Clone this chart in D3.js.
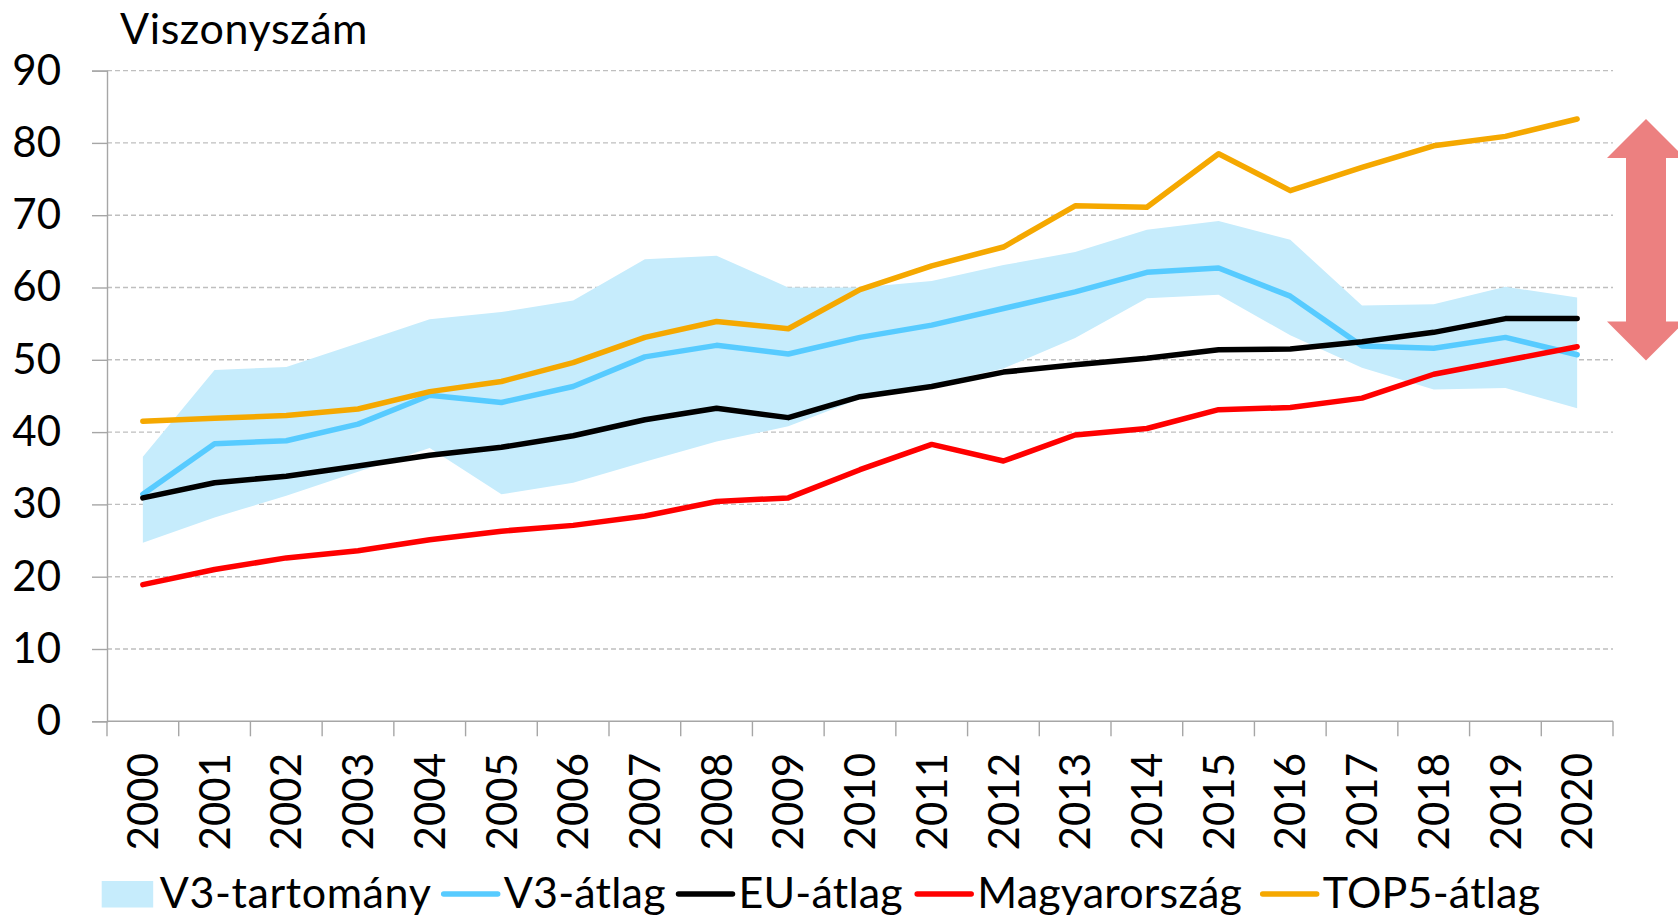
<!DOCTYPE html>
<html>
<head>
<meta charset="utf-8">
<script src="https://cdn.jsdelivr.net/npm/d3@7"></script>
<style>
  body { margin: 0; background: #fff; }
  svg { display: block; font-family: Lato, "Open Sans", sans-serif; }
</style>
</head>
<body>
<svg width="1678" height="918"></svg>
<script>
var years = ["2000","2001","2002","2003","2004","2005","2006","2007","2008","2009","2010",
             "2011","2012","2013","2014","2015","2016","2017","2018","2019","2020"];

// V3 range (band)
var v3Low  = [24.7,28.2,31.2,34.5,37.8,31.4,33.0,35.9,38.7,40.8,44.6,46.6,48.8,53.0,58.5,59.0,53.4,48.9,45.9,46.1,43.3];
var v3High = [36.6,48.6,49.0,52.3,55.6,56.6,58.2,63.9,64.4,60.0,60.0,60.9,63.1,64.9,68.0,69.2,66.6,57.5,57.7,60.1,58.6];

var v3Avg   = [31.4,38.4,38.8,41.1,45.1,44.1,46.3,50.4,52.0,50.8,53.1,54.8,57.1,59.4,62.1,62.7,58.8,51.9,51.6,53.1,50.7];
var euAvg   = [30.9,33.0,33.9,35.3,36.8,37.9,39.5,41.7,43.3,42.0,44.9,46.3,48.3,49.3,50.2,51.4,51.5,52.5,53.8,55.7,55.7];
var hungary = [18.9,21.0,22.6,23.6,25.1,26.3,27.1,28.4,30.4,30.9,34.8,38.3,36.0,39.6,40.5,43.1,43.4,44.7,48.0,49.9,51.8];
var top5    = [41.5,41.9,42.3,43.2,45.6,47.0,49.6,53.1,55.3,54.3,59.7,63.0,65.6,71.3,71.1,78.5,73.4,76.6,79.6,80.9,83.3];

var yTicks = [0,10,20,30,40,50,60,70,80,90];
var arrowSpan = [83.3, 49.9];

var svg = d3.select("svg");

var x = d3.scaleBand().domain(years).range([107, 1613]).paddingInner(0).paddingOuter(0);
var y = d3.scaleLinear().domain([0, 90]).range([721.3, 70.6]);
var cx = function(i) { return x(years[i]) + x.bandwidth() / 2; };

// gridlines
svg.append("g")
  .selectAll("line")
  .data(yTicks.filter(function(d) { return d > 0; }))
  .enter().append("line")
    .attr("x1", 107).attr("x2", 1613)
    .attr("y1", function(d) { return y(d); })
    .attr("y2", function(d) { return y(d); })
    .attr("stroke", "#bfbfbf")
    .attr("stroke-width", 1.4)
    .attr("stroke-dasharray", "5,3");

// y axis
var yAxis = svg.append("g")
    .attr("transform", "translate(107,0)")
    .call(d3.axisLeft(y).tickValues(yTicks).tickSize(15).tickPadding(31));
yAxis.selectAll("path, line").attr("stroke", "#a6a6a6").attr("stroke-width", 1.4);
yAxis.selectAll("text")
    .attr("font-family", "Lato, 'Open Sans', sans-serif")
    .attr("font-size", 42).attr("fill", "#000");

// x axis
svg.append("line")
    .attr("x1", 107).attr("x2", 1613)
    .attr("y1", y(0)).attr("y2", y(0))
    .attr("stroke", "#a6a6a6").attr("stroke-width", 1.4);
svg.append("g")
  .selectAll("line")
  .data(years.concat(["end"]))
  .enter().append("line")
    .attr("x1", function(d) { return d === "end" ? 1613 : x(d); })
    .attr("x2", function(d) { return d === "end" ? 1613 : x(d); })
    .attr("y1", y(0)).attr("y2", y(0) + 15)
    .attr("stroke", "#a6a6a6").attr("stroke-width", 1.4);
svg.append("g")
  .selectAll("text")
  .data(years)
  .enter().append("text")
    .attr("transform", function(d) {
      return "translate(" + (x(d) + x.bandwidth() / 2) + ",753) rotate(-90)";
    })
    .attr("dy", "0.36em")
    .attr("text-anchor", "end")
    .attr("font-size", 42)
    .text(function(d) { return d; });

// V3 range band
var area = d3.area()
    .x(function(d, i) { return cx(i); })
    .y0(function(d, i) { return y(v3Low[i]); })
    .y1(function(d, i) { return y(v3High[i]); });
svg.append("path")
    .datum(years)
    .attr("d", area)
    .attr("fill", "#c6ecfc");

var line = d3.line()
    .x(function(d, i) { return cx(i); })
    .y(function(d) { return y(d); });

var series = [
  { name: "V3-átlag", values: v3Avg, color: "#57cbff", lx: 443.7 },
  { name: "EU-átlag", values: euAvg, color: "#000000", lx: 678.5 },
  { name: "Magyarország", values: hungary, color: "#ff0000", lx: 917.2 },
  { name: "TOP5-átlag", values: top5, color: "#f5a800", lx: 1262.7 }
];

svg.append("g")
  .selectAll("path")
  .data(series)
  .enter().append("path")
    .attr("d", function(d) { return line(d.values); })
    .attr("fill", "none")
    .attr("stroke", function(d) { return d.color; })
    .attr("stroke-width", 5.5)
    .attr("stroke-linejoin", "round")
    .attr("stroke-linecap", "round");

// double arrow
var ax = 1646, aTop = y(arrowSpan[0]), aBot = y(arrowSpan[1]);
var hw = 39, sw = 20, hh = 39;
svg.append("path")
    .attr("d", [
      "M", ax, aTop,
      "L", ax + hw, aTop + hh,
      "L", ax + sw, aTop + hh,
      "L", ax + sw, aBot - hh,
      "L", ax + hw, aBot - hh,
      "L", ax, aBot,
      "L", ax - hw, aBot - hh,
      "L", ax - sw, aBot - hh,
      "L", ax - sw, aTop + hh,
      "L", ax - hw, aTop + hh, "Z"].join(" "))
    .attr("fill", "#ec8080");

// title
svg.append("text")
    .attr("x", 120)
    .attr("y", 44)
    .attr("font-size", 43)
    .attr("letter-spacing", 0.6)
    .text("Viszonyszám");

// legend
var legend = svg.append("g");
legend.append("rect")
    .attr("x", 101.7).attr("y", 881)
    .attr("width", 51.5).attr("height", 26.5)
    .attr("fill", "#c6ecfc");
legend.append("text")
    .attr("x", 159.7).attr("y", 907.5)
    .attr("font-size", 43)
    .attr("letter-spacing", 0.6)
    .text("V3-tartomány");
series.forEach(function(s) {
  legend.append("line")
      .attr("x1", s.lx).attr("x2", s.lx + 54)
      .attr("y1", 894).attr("y2", 894)
      .attr("stroke", s.color)
      .attr("stroke-width", 5.5)
      .attr("stroke-linecap", "round");
  legend.append("text")
      .attr("x", s.lx + 60).attr("y", 907.5)
      .attr("font-size", 43)
      .attr("letter-spacing", 0.2)
      .text(s.name);
});
</script>
</body>
</html>
